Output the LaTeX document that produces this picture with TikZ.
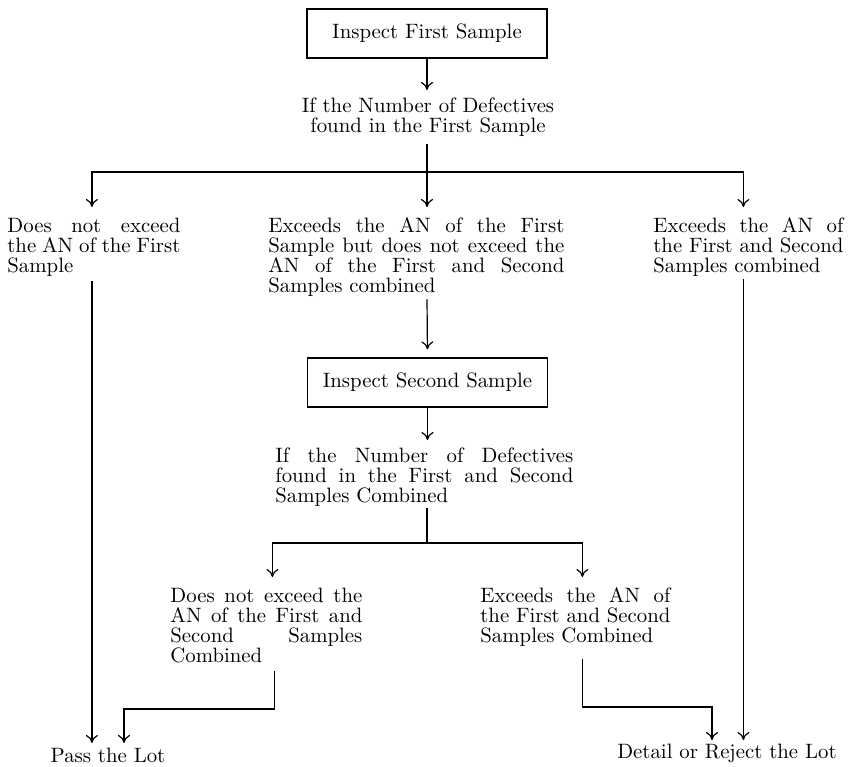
\documentclass[tikz,border=0pt]{standalone}
\usepackage{tikz}
\usetikzlibrary{
  arrows.meta,
  positioning, calc
}
\tikzset{
  % Framed inspection step
  stepbox/.style={
    rectangle, draw, line width=0.65pt,
    minimum width=120pt, minimum height=24.5pt,
    inner sep=0pt
  },
  % Justified paragraph, placed by its top left corner
  para/.style={inner sep=0pt, align=justify, anchor=north west},
  % Centred text, placed by its top
  ctext/.style={inner sep=0pt, align=center, anchor=north},
  % Lines and arrows
  line/.style={line width=0.6pt},
  arr/.style={line, -{To[length=4pt,width=6pt]}, shorten >=4pt},
}

\begin{document}
\begin{tikzpicture}[x=0.5pt, y=-0.5pt, font=\fontsize{10.4}{10}\selectfont]

  \useasboundingbox (0,0) rectangle (848,767);

  %% First sample
  \node[stepbox] (insp1) at (427,33.5) {Inspect First Sample};

  \node[ctext] (cond1) at (428,97.6)
    {If the Number of Defectives\\found in the First Sample};

  \coordinate (split1) at (427,172);

  %% Three outcomes of the first sample
  \node[para, text width=86.5pt] (notexc1) at (7,217.6)
    {Does not exceed\linebreak the AN of the First\linebreak Sample};

  \node[para, text width=148pt] (between) at (268,217.6)
    {Exceeds the AN of the First\linebreak Sample but does not exceed the\linebreak
     AN of the First and Second\linebreak Samples combined};

  \node[para, text width=95pt] (exc1) at (653,217.6)
    {Exceeds the AN of\linebreak the First and Second\linebreak Samples combined};

  %% Second sample
  \node[stepbox] (insp2) at (427.5,382.5) {Inspect Second Sample};

  \node[para, text width=149pt] (cond2) at (275,447.6)
    {If the Number of Defectives\linebreak found in the First and Second\linebreak
     Samples Combined};

  \coordinate (split2) at (427,543);

  %% Two outcomes of the second sample
  \node[para, text width=96pt] (notexc2) at (170,587.6)
    {Does not exceed the\linebreak AN of the First and\linebreak Second Samples\linebreak Combined};

  \node[para, text width=95pt] (exc2) at (480,587.6)
    {Exceeds the AN of\linebreak the First and Second\linebreak Samples Combined};

  %% Decisions
  \node[ctext] (pass) at (108,748) {Pass the Lot};
  \node[ctext] (reject) at (727,743.6) {Detail or Reject the Lot};

  \coordinate (pj) at (124,709);
  \coordinate (rj) at (712,707);

  %% Arrows of the first sample
  \draw[arr, shorten >=3.8pt] (insp1.south) -- (insp1.south |- cond1.north);
  \draw[line, shorten <=3.5pt] (cond1.south -| split1) -- (split1);
  \draw[arr, shorten >=5.3pt] (split1) -| ([xshift=-1pt]notexc1.north);
  \draw[arr, shorten >=5.3pt] (split1) -- (split1 |- between.north);
  \draw[arr, shorten >=5.3pt] (split1) -| ([xshift=-2.5pt]exc1.north);

  %% Arrows of the second sample
  \draw[arr, shorten <=1pt] (between.south -| split1) -- (insp2.north);
  \draw[arr, shorten >=3.8pt] (insp2.south) -- (insp2.south |- cond2.north);
  \draw[line, shorten <=0.5pt] (cond2.south -| split2) -- (split2);
  \draw[arr, shorten >=5.3pt] (split2) -| ([xshift=3pt]notexc2.north);
  \draw[arr, shorten >=5.3pt] (split2) -| ([xshift=3.5pt]exc2.north);

  %% Arrows into the decisions
  \draw[arr, shorten <=2pt, shorten >=2.5pt]
    ([xshift=-1pt]notexc1.south) -- ([xshift=-1pt]notexc1.south |- pass.north);
  \draw[arr, shorten <=4pt, shorten >=2.5pt]
    ([xshift=4pt]notexc2.south) |- (pj) -- (pj |- pass.north);
  \draw[arr, shorten <=6pt, shorten >=1.8pt]
    ([xshift=3.5pt]exc2.south) |- (rj) -- (rj |- reject.north);
  \draw[arr, shorten <=1pt, shorten >=1.8pt]
    ([xshift=-2.5pt]exc1.south) -- ([xshift=-2.5pt]exc1.south |- reject.north);

\end{tikzpicture}
\end{document}
